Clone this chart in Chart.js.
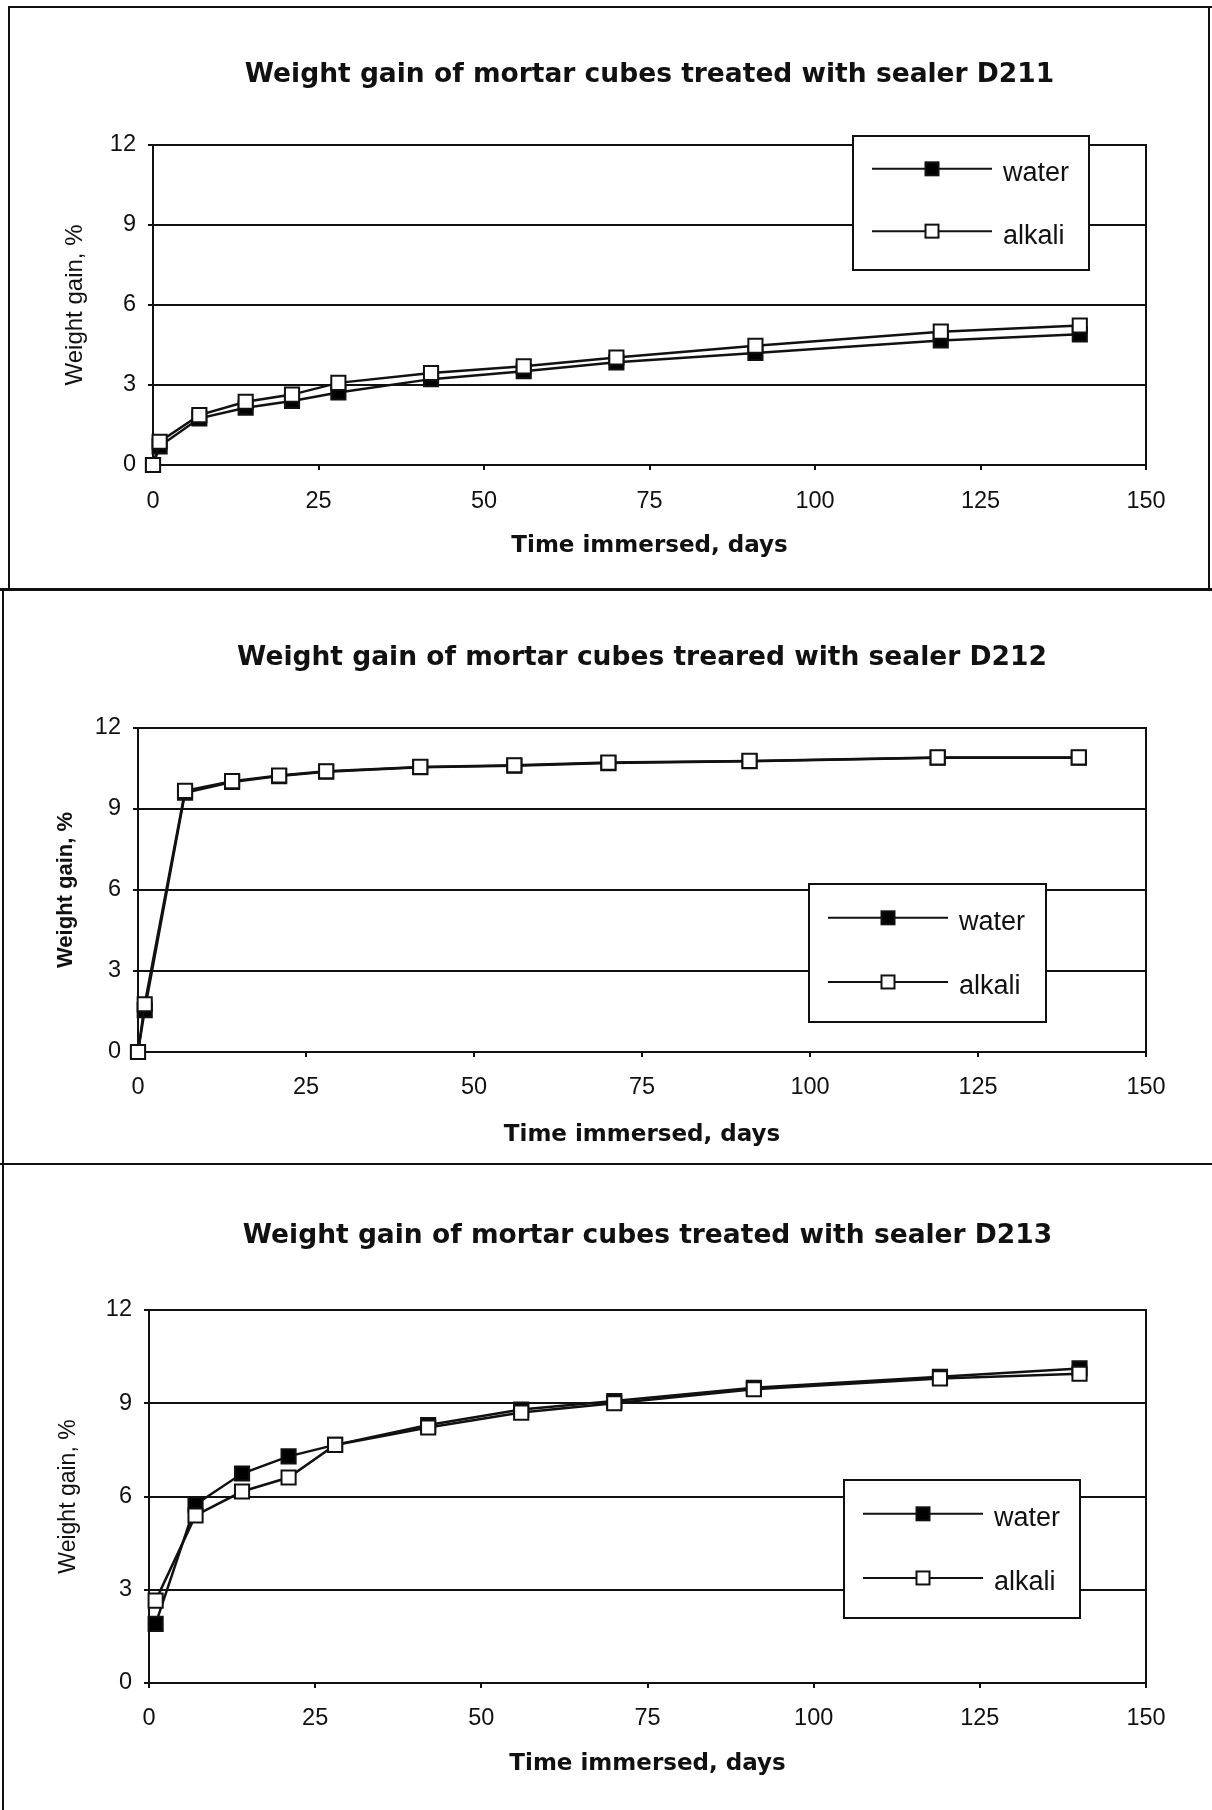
<!DOCTYPE html>
<html>
<head>
<meta charset="utf-8">
<title>Weight gain of mortar cubes</title>
<script src="https://cdn.jsdelivr.net/npm/chart.js@4.4.1/dist/chart.umd.min.js"></script>
<style>
  html, body { margin: 0; padding: 0; background: #fff; }
  #page { position: relative; width: 1212px; height: 1810px; overflow: hidden; background: #fff; }
  canvas { position: absolute; left: 0; }
  .rule { position: absolute; background: #111; }
</style>
</head>
<body>
<div id="page">
  <canvas id="c211" width="1212" height="590" style="top:0"></canvas>
  <canvas id="c212" width="1212" height="574" style="top:590px"></canvas>
  <canvas id="c213" width="1212" height="646" style="top:1164px"></canvas>

  <!-- frames round the three panels -->
  <div class="rule" style="left:8px; top:6px; width:1204px; height:2px"></div>
  <div class="rule" style="left:8px; top:6px; width:2px; height:584px"></div>
  <div class="rule" style="left:1208px; top:6px; width:2px; height:584px"></div>
  <div class="rule" style="left:0; top:588px; width:1212px; height:3px"></div>
  <div class="rule" style="left:2px; top:590px; width:2px; height:1220px"></div>
  <div class="rule" style="left:0; top:1163px; width:1212px; height:2px"></div>
</div>

<script>
// sampling days and readings (weight gain, %)
const days = [0, 1, 7, 14, 21, 28, 42, 56, 70, 91, 119, 140];
const d211Water  = [0, 0.70, 1.75, 2.15, 2.40, 2.72, 3.22, 3.52, 3.85, 4.20, 4.67, 4.90];
const d211Alkali = [0, 0.87, 1.87, 2.37, 2.64, 3.08, 3.45, 3.70, 4.03, 4.47, 5.00, 5.23];
const d212Water  = [0, 1.55, 9.60, 10.00, 10.22, 10.38, 10.55, 10.60, 10.70, 10.77, 10.90, 10.90];
const d212Alkali = [0, 1.77, 9.67, 10.03, 10.24, 10.40, 10.56, 10.62, 10.72, 10.78, 10.91, 10.91];
const days213 = [1, 7, 14, 21, 28, 42, 56, 70, 91, 119, 140];
const d213Water  = [1.90, 5.74, 6.74, 7.29, 7.66, 8.30, 8.80, 9.07, 9.50, 9.85, 10.12];
const d213Alkali = [2.65, 5.39, 6.16, 6.61, 7.66, 8.22, 8.70, 9.00, 9.45, 9.80, 9.95];

const xTicks = [0, 25, 50, 75, 100, 125, 150];
const yTicks = [0, 3, 6, 9, 12];
const seriesNames = ['water', 'alkali'];

const BOLD_FONT = "'DejaVu Sans', 'Liberation Sans', Arial, sans-serif";
const FONT = "'Liberation Sans', Arial, Helvetica, sans-serif";
const INK = '#111';
const TICK_SIZE = 23.5;
const XTITLE_SIZE = 23;

function pts(xs, ys) {
  return xs.map((x, i) => ({ x: x, y: ys[i] }));
}

// right edge of the plot box (top edge is the 12 % grid line)
const plotFrame = {
  id: 'plotFrame',
  beforeDatasetsDraw(chart) {
    const { ctx, chartArea: a } = chart;
    ctx.save();
    ctx.strokeStyle = INK;
    ctx.lineWidth = 2;
    ctx.beginPath();
    ctx.moveTo(a.right, a.top - 1);
    ctx.lineTo(a.right, a.bottom + 1);
    ctx.stroke();
    ctx.restore();
  }
};

// boxed legend with line + marker samples
const boxLegend = {
  id: 'boxLegend',
  afterDraw(chart, args, opts) {
    const { ctx } = chart;
    const [bx, by, bw, bh] = opts.box;
    ctx.save();
    ctx.fillStyle = '#fff';
    ctx.fillRect(bx, by, bw, bh);
    ctx.strokeStyle = INK;
    ctx.lineWidth = 2;
    ctx.strokeRect(bx, by, bw, bh);
    chart.data.datasets.forEach((ds, i) => {
      const y = by + bh * (i === 0 ? 0.245 : 0.71);
      ctx.strokeStyle = INK;
      ctx.lineWidth = 2;
      ctx.beginPath();
      ctx.moveTo(bx + 19, y);
      ctx.lineTo(bx + 139, y);
      ctx.stroke();
      const s = 13;
      ctx.fillStyle = ds.pointBackgroundColor;
      ctx.fillRect(bx + 79 - s / 2, y - s / 2, s, s);
      ctx.strokeRect(bx + 79 - s / 2, y - s / 2, s, s);
      ctx.fillStyle = INK;
      ctx.font = '27px ' + FONT;
      ctx.textAlign = 'left';
      ctx.textBaseline = 'middle';
      ctx.fillText(ds.label, bx + 150, y + 5);
    });
    ctx.restore();
  }
};

function makeChart(id, g) {
  const canvas = document.getElementById(id);
  const H = canvas.height;
  const titleLH = g.titleSize * 1.2;
  const yTitleLH = g.yTitleSize * 1.2;
  const xTitleLH = XTITLE_SIZE * 1.2;
  const tickLH = TICK_SIZE * 1.2;

  const series = (label, data, fill, order) => ({
    label: label,
    data: data,
    order: order,
    clip: false,
    borderColor: INK,
    borderWidth: 2.5,
    backgroundColor: fill,
    pointStyle: 'rect',
    pointRadius: 10,
    pointHoverRadius: 10,
    pointBorderWidth: 2,
    pointBorderColor: INK,
    pointBackgroundColor: fill,
    tension: 0,
    fill: false
  });

  return new Chart(canvas, {
    type: 'line',
    data: {
      datasets: [
        series(seriesNames[0], g.water, '#000', 1),
        series(seriesNames[1], g.alkali, '#fff', 0)
      ]
    },
    plugins: [plotFrame, boxLegend],
    options: {
      responsive: false,
      animation: false,
      devicePixelRatio: 1,
      layout: { padding: { left: 0, right: 1212 - g.right, top: 0, bottom: 0 } },
      plugins: {
        legend: { display: false },
        tooltip: { enabled: false },
        title: {
          display: true,
          fullSize: false,
          text: g.title,
          color: INK,
          font: { family: BOLD_FONT, size: g.titleSize, weight: 'bold' },
          padding: {
            top: g.titleY - titleLH / 2,
            bottom: g.top - g.titleY - titleLH / 2
          }
        },
        boxLegend: { box: g.legend }
      },
      scales: {
        x: {
          type: 'linear',
          min: 0,
          max: 150,
          afterBuildTicks: s => { s.ticks = xTicks.map(v => ({ value: v })); },
          afterFit: s => { s.height = H - g.bottom; },
          grid: { display: true, drawOnChartArea: false, drawTicks: true, tickLength: 5, color: INK, lineWidth: 2 },
          border: { display: true, color: INK, width: 2 },
          ticks: {
            color: INK,
            font: { family: FONT, size: TICK_SIZE },
            padding: g.xTickY - g.bottom - 5 - tickLH / 2,
            maxRotation: 0
          },
          title: {
            display: true,
            text: 'Time immersed, days',
            color: INK,
            font: { family: BOLD_FONT, size: XTITLE_SIZE, weight: 'bold' },
            padding: { top: 0, bottom: H - g.xTitleY - xTitleLH / 2 }
          }
        },
        y: {
          min: 0,
          max: 12,
          afterBuildTicks: s => { s.ticks = yTicks.map(v => ({ value: v })); },
          afterFit: s => { s.width = g.left; },
          grid: { color: INK, lineWidth: 2, tickLength: 5 },
          border: { display: true, color: INK, width: 2 },
          ticks: {
            color: INK,
            font: { family: FONT, size: TICK_SIZE },
            padding: 12
          },
          title: {
            display: true,
            text: 'Weight gain, %',
            color: INK,
            font: { family: FONT, size: g.yTitleSize, weight: g.yTitleWeight },
            padding: { top: g.yTitleX - yTitleLH / 2, bottom: 0 }
          }
        }
      }
    }
  });
}

makeChart('c211', {
  title: 'Weight gain of mortar cubes treated with sealer D211',
  water: pts(days, d211Water),
  alkali: pts(days, d211Alkali),
  left: 153, right: 1146, top: 145, bottom: 465,
  titleY: 75, titleSize: 26.5,
  xTickY: 502, xTitleY: 546,
  yTitleX: 75, yTitleSize: 24, yTitleWeight: 'normal',
  legend: [853, 136, 236, 134]
});

makeChart('c212', {
  title: 'Weight gain of mortar cubes treared with sealer D212',
  water: pts(days, d212Water),
  alkali: pts(days, d212Alkali),
  left: 138, right: 1146, top: 138, bottom: 462,
  titleY: 68, titleSize: 26.5,
  xTickY: 498, xTitleY: 545,
  yTitleX: 66, yTitleSize: 22, yTitleWeight: 'bold',
  legend: [809, 294, 237, 138]
});

makeChart('c213', {
  title: 'Weight gain of mortar cubes treated with sealer D213',
  water: pts(days213, d213Water),
  alkali: pts(days213, d213Alkali),
  left: 149, right: 1146, top: 146, bottom: 519,
  titleY: 72, titleSize: 26.5,
  xTickY: 555, xTitleY: 600,
  yTitleX: 69, yTitleSize: 23, yTitleWeight: 'normal',
  legend: [844, 316, 236, 138]
});
</script>
</body>
</html>
